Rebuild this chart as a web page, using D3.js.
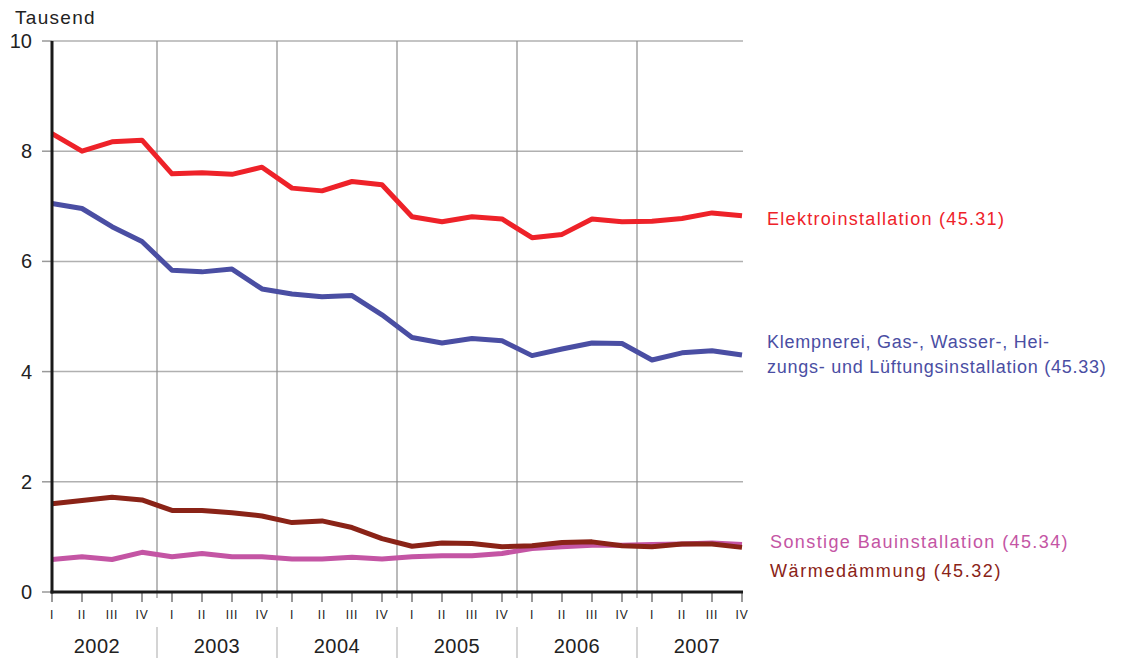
<!DOCTYPE html>
<html>
<head>
<meta charset="utf-8">
<script src="https://cdn.jsdelivr.net/npm/d3@7"></script>
<style>
  body { margin: 0; background: #fff; }
  svg { display: block; font-family: "Liberation Sans", Arial, sans-serif; }
</style>
</head>
<body>
<svg id="chart" width="1142" height="658"></svg>
<script>
// quarters 2002 I .. 2007 IV
const years = ['2002', '2003', '2004', '2005', '2006', '2007'];
const quarterLabels = ['I', 'II', 'III', 'IV'];
const yTicks = [0, 2, 4, 6, 8, 10];

const elektro = [8.32, 8.00, 8.17, 8.20, 7.59, 7.61, 7.58, 7.71, 7.33, 7.28, 7.45, 7.39,
                 6.81, 6.72, 6.81, 6.77, 6.43, 6.49, 6.77, 6.72, 6.73, 6.78, 6.88, 6.83];
const klempner = [7.05, 6.96, 6.63, 6.36, 5.84, 5.81, 5.86, 5.50, 5.41, 5.36, 5.38, 5.03,
                  4.62, 4.52, 4.60, 4.56, 4.29, 4.41, 4.52, 4.51, 4.21, 4.34, 4.38, 4.30];
const sonstige = [0.59, 0.64, 0.59, 0.72, 0.64, 0.70, 0.64, 0.64, 0.60, 0.60, 0.63, 0.60,
                  0.64, 0.66, 0.66, 0.70, 0.79, 0.82, 0.85, 0.85, 0.86, 0.87, 0.89, 0.86];
const waerme = [1.60, 1.66, 1.72, 1.67, 1.48, 1.48, 1.44, 1.38, 1.26, 1.29, 1.17, 0.97,
                0.83, 0.89, 0.88, 0.82, 0.84, 0.90, 0.91, 0.84, 0.82, 0.87, 0.87, 0.81];

const series = [
  { values: sonstige, color: '#c455a4', label: ['Sonstige Bauinstallation (45.34)'], lx: 770, ly: 548, ls: 1.4 },
  { values: waerme, color: '#8a2317', label: ['Wärmedämmung (45.32)'], lx: 770, ly: 577, ls: 1.6 },
  { values: klempner, color: '#4a4ea3', label: ['Klempnerei, Gas-, Wasser-, Hei-', 'zungs- und Lüftungsinstallation (45.33)'], lx: 767, ly: 348, ls: 0.75 },
  { values: elektro, color: '#ee2229', label: ['Elektroinstallation (45.31)'], lx: 767, ly: 225, ls: 1.3 }
];

const quarters = [];
years.forEach(y => quarterLabels.forEach(q => quarters.push(y + ' ' + q)));

const svg = d3.select('#chart');
const x = d3.scalePoint().domain(quarters).range([52, 742]);
const y = d3.scaleLinear().domain([0, 10]).range([592, 41]);
const step = x.step();

// horizontal grid
svg.append('g').selectAll('line').data(yTicks.filter(d => d > 0)).join('line')
  .attr('x1', 52).attr('x2', 743)
  .attr('y1', d => y(d)).attr('y2', d => y(d))
  .attr('stroke', '#b0b0b0').attr('stroke-width', 1.5);

// y ticks + labels
const yAxis = svg.append('g');
yAxis.selectAll('line').data(yTicks).join('line')
  .attr('x1', 42).attr('x2', 52)
  .attr('y1', d => y(d)).attr('y2', d => y(d))
  .attr('stroke', '#999').attr('stroke-width', 1.5);
yAxis.selectAll('text').data(yTicks).join('text')
  .attr('x', 32).attr('y', d => y(d) + 7)
  .attr('text-anchor', 'end')
  .attr('font-size', 20).attr('fill', '#222')
  .text(d => d);

svg.append('text').attr('x', 15).attr('y', 24)
  .attr('font-size', 19).attr('letter-spacing', 1.3).attr('fill', '#222').text('Tausend');

// vertical year separators
const seps = years.slice(1).map(yr => x(yr + ' I') - step / 2);
svg.append('g').selectAll('line').data(seps).join('line')
  .attr('x1', d => d).attr('x2', d => d)
  .attr('y1', y(10)).attr('y2', 598)
  .attr('stroke', '#8c8c8c').attr('stroke-width', 1.2);
svg.append('g').selectAll('line').data(seps).join('line')
  .attr('x1', d => d).attr('x2', d => d)
  .attr('y1', 627).attr('y2', 658)
  .attr('stroke', '#b8b8b8').attr('stroke-width', 1.2);

// quarter ticks + labels
const xq = svg.append('g');
xq.selectAll('line').data(quarters).join('line')
  .attr('x1', d => x(d)).attr('x2', d => x(d))
  .attr('y1', 592).attr('y2', 602)
  .attr('stroke', '#555').attr('stroke-width', 1.2);
xq.selectAll('text').data(quarters).join('text')
  .attr('x', d => x(d)).attr('y', 619)
  .attr('text-anchor', 'middle')
  .attr('font-size', 12).attr('letter-spacing', 0.8).attr('fill', '#222')
  .text(d => d.split(' ')[1]);

svg.append('g').selectAll('text').data(years).join('text')
  .attr('x', yr => (x(yr + ' I') + x(yr + ' IV')) / 2)
  .attr('y', 653)
  .attr('text-anchor', 'middle')
  .attr('font-size', 20).attr('letter-spacing', 0.5).attr('fill', '#222')
  .text(d => d);

// lines
const line = d3.line().x((d, i) => x(quarters[i])).y(d => y(d));
svg.append('g').selectAll('path').data(series).join('path')
  .attr('d', s => line(s.values))
  .attr('fill', 'none')
  .attr('stroke', s => s.color)
  .attr('stroke-width', 5)
  .attr('stroke-linejoin', 'round');

// axes
svg.append('line').attr('x1', 52).attr('x2', 52).attr('y1', y(10)).attr('y2', 593.5)
  .attr('stroke', '#1a1a1a').attr('stroke-width', 3);
svg.append('line').attr('x1', 50.5).attr('x2', 743).attr('y1', 592).attr('y2', 592)
  .attr('stroke', '#1a1a1a').attr('stroke-width', 3);

// labels
series.forEach(s => {
  const t = svg.append('text').attr('font-size', 18).attr('letter-spacing', s.ls).attr('fill', s.color);
  s.label.forEach((l, i) => {
    t.append('tspan').attr('x', s.lx).attr('y', s.ly + i * 25).text(l);
  });
});
</script>
</body>
</html>
